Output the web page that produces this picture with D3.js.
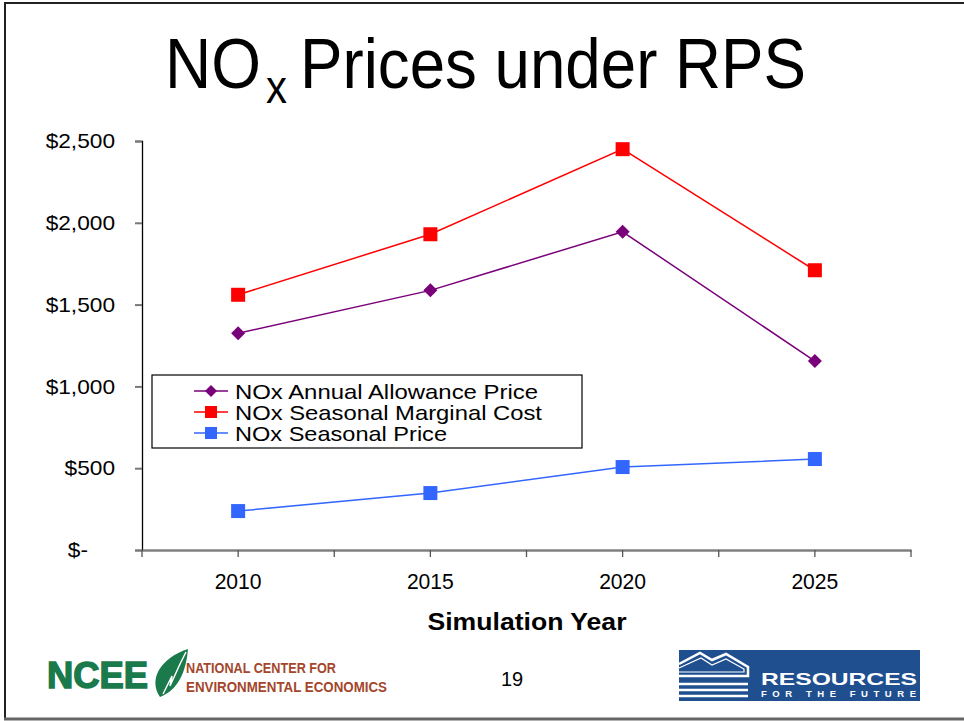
<!DOCTYPE html>
<html><head><meta charset="utf-8">
<script src="https://cdn.jsdelivr.net/npm/d3@7"></script>
<style>html,body{margin:0;padding:0;background:#fff;}svg{display:block;font-family:"Liberation Sans",Arial,sans-serif;}</style>
</head><body>
<script>
const years = ["2010","2015","2020","2025"];
const annualAllowance = [1325, 1587, 1945, 1155];
const seasonalMarginalCost = [1560, 1930, 2450, 1710];
const seasonalPrice = [238, 348, 507, 556];
const yTicks = [0, 500, 1000, 1500, 2000, 2500];
const seriesNames = ["NOx Annual Allowance Price", "NOx Seasonal Marginal Cost", "NOx Seasonal Price"];

const W = 964, H = 721;
const svg = d3.select("body").append("svg").attr("width", W).attr("height", H);
svg.append("rect").attr("width", W).attr("height", H).attr("fill", "#fff");

// slide frame
svg.append("path").attr("d", "M5,719 L5,3 L964,3").attr("fill","none").attr("stroke","#222").attr("stroke-width",2);
svg.append("line").attr("x1",4).attr("x2",964).attr("y1",719).attr("y2",719).attr("stroke","#666").attr("stroke-width",3);

// title
const title = svg.append("g").attr("transform","translate(0,88) scale(1,1.09) translate(0,-88)");
title.append("text").attr("x",165).attr("y",88).attr("font-size",64).text("NO");
title.append("text").attr("x",266).attr("y",102).attr("font-size",42).text("x");
title.append("text").attr("x",300).attr("y",88).attr("font-size",64).attr("textLength",506).attr("lengthAdjust","spacingAndGlyphs").text("Prices under RPS");

// scales
const x = d3.scaleBand().domain(years).range([142, 911]).paddingInner(0).paddingOuter(0);
const bw = x.bandwidth();
const cx = d => x(d) + bw/2;
const y = d3.scaleLinear().domain([0, 2500]).range([550, 141]);

// y axis
const yAxis = svg.append("g").attr("transform","translate(142,0)")
  .call(d3.axisLeft(y).tickValues(yTicks).tickSize(7).tickPadding(20)
    .tickFormat(d => d === 0 ? "$-" : "$" + d3.format(",")(d)));
yAxis.select(".domain").attr("stroke","#000").attr("stroke-width",1.3);
yAxis.selectAll(".tick line").attr("stroke","#777").attr("stroke-width",2);
yAxis.selectAll(".tick text").attr("font-size",21).attr("fill","#000").attr("font-family","Liberation Sans, Arial, sans-serif")
  .each(function(d){ const el=this; const w=el.getComputedTextLength(); d3.select(el).attr("textLength", w*1.08).attr("lengthAdjust","spacingAndGlyphs"); if(d===0) d3.select(el).attr("dx",-27); });

// x axis
const xAxis = svg.append("g").attr("transform","translate(0,550)")
  .call(d3.axisBottom(x).tickSize(7).tickSizeOuter(0).tickPadding(16));
xAxis.select(".domain").attr("stroke","#808080").attr("stroke-width",2.5);
xAxis.selectAll(".tick line").attr("stroke","#555").attr("stroke-width",1.3);
xAxis.selectAll(".tick text").attr("font-size",22).attr("fill","#000").attr("font-family","Liberation Sans, Arial, sans-serif")
  .attr("textLength",47).attr("lengthAdjust","spacingAndGlyphs");
const bounds = years.map(d => x(d)).concat([x.range()[1]]);
xAxis.selectAll(".btick").data(bounds).enter().append("line").attr("class","btick")
  .attr("x1",d=>d).attr("x2",d=>d).attr("y1",0).attr("y2",7).attr("stroke","#555").attr("stroke-width",1.3);

svg.append("text").attr("x",527).attr("y",630).attr("text-anchor","middle").attr("font-size",24).attr("font-weight","bold")
  .attr("textLength",199).attr("lengthAdjust","spacingAndGlyphs").text("Simulation Year");

// series
const series = [
  {name: seriesNames[0], values: annualAllowance, color: "#7a007a", shape: "diamond"},
  {name: seriesNames[1], values: seasonalMarginalCost, color: "#ff0000", shape: "square"},
  {name: seriesNames[2], values: seasonalPrice, color: "#3366ff", shape: "square"}
];
const line = d3.line().x((d,i) => cx(years[i])).y(d => y(d));
function marker(g, shape, color, s){
  if (shape === "diamond") {
    g.append("path").attr("d", `M0,${-s} L${s},0 L0,${s} L${-s},0 Z`).attr("fill", color);
  } else {
    g.append("rect").attr("x",-s).attr("y",-s).attr("width",2*s).attr("height",2*s).attr("fill",color);
  }
}
series.forEach(s => {
  svg.append("path").datum(s.values).attr("d", line).attr("fill","none").attr("stroke", s.color).attr("stroke-width",1.5);
  s.values.forEach((v,i) => {
    const g = svg.append("g").attr("transform", `translate(${cx(years[i])},${y(v)})`);
    marker(g, s.shape, s.color, 7);
  });
});

// legend
const lg = svg.append("g");
lg.append("rect").attr("x",152).attr("y",375).attr("width",430).attr("height",73).attr("fill","#fff").attr("stroke","#000").attr("stroke-width",1.2);
const legendWidths = [303, 307, 212];
series.forEach((s,i) => {
  const cy = 391 + i*21;
  lg.append("line").attr("x1",194).attr("x2",228).attr("y1",cy).attr("y2",cy).attr("stroke",s.color).attr("stroke-width",1.5);
  const g = lg.append("g").attr("transform",`translate(211,${cy})`);
  marker(g, s.shape, s.color, 6);
  lg.append("text").attr("x",235).attr("y",cy+7.5).attr("font-size",21).attr("textLength",legendWidths[i]).attr("lengthAdjust","spacingAndGlyphs").text(s.name);
});

// page number
svg.append("text").attr("x",512).attr("y",686).attr("text-anchor","middle").attr("font-size",20).text("19");

// NCEE logo
const nc = svg.append("g");
nc.append("text").attr("x",47).attr("y",688).attr("font-size",37).attr("font-weight","900").attr("fill","#1a7a4c")
  .attr("textLength",101).attr("lengthAdjust","spacingAndGlyphs").attr("stroke","#1a7a4c").attr("stroke-width",1.5).text("NCEE");
nc.append("path").attr("d","M160,697 C148,680 160,658 188,649 C186,672 178,690 160,697 Z").attr("fill","#1a7a4c");
nc.append("path").attr("d","M163,694 L172,676 L170,686 L180,664 L186,652").attr("fill","none").attr("stroke","#fff").attr("stroke-width",1.5);
nc.append("text").attr("x",186).attr("y",673).attr("font-size",14).attr("font-weight","bold").attr("fill","#a4462b")
  .attr("textLength",150).attr("lengthAdjust","spacingAndGlyphs").text("NATIONAL CENTER FOR");
nc.append("text").attr("x",186).attr("y",692).attr("font-size",14).attr("font-weight","bold").attr("fill","#a4462b")
  .attr("textLength",201).attr("lengthAdjust","spacingAndGlyphs").text("ENVIRONMENTAL ECONOMICS");

// RFF logo
const rf = svg.append("g");
rf.append("rect").attr("x",679).attr("y",650).attr("width",241).attr("height",51).attr("fill","#1f4f8f");
rf.append("path").attr("d","M679,664 L700,653 L712,660 L726,654 L748,667 L748,676 L679,676").attr("fill","none").attr("stroke","#fff").attr("stroke-width",2.5);
rf.append("path").attr("d","M679,668 L701,658 L712,665 L726,659 L744,669 L744,672 L679,672").attr("fill","none").attr("stroke","#fff").attr("stroke-width",1.2);
[684, 690, 696].forEach(yy => rf.append("line").attr("x1",679).attr("x2",748).attr("y1",yy).attr("y2",yy).attr("stroke","#fff").attr("stroke-width",2.5));
rf.append("text").attr("x",761).attr("y",685).attr("font-size",17).attr("font-weight","bold").attr("fill","#fff")
  .attr("textLength",156).attr("lengthAdjust","spacingAndGlyphs").text("RESOURCES");
rf.append("text").attr("x",761).attr("y",697).attr("font-size",9.5).attr("font-weight","bold").attr("fill","#fff")
  .attr("textLength",155).attr("lengthAdjust","spacing").text("FOR THE FUTURE");
</script>
</body></html>
